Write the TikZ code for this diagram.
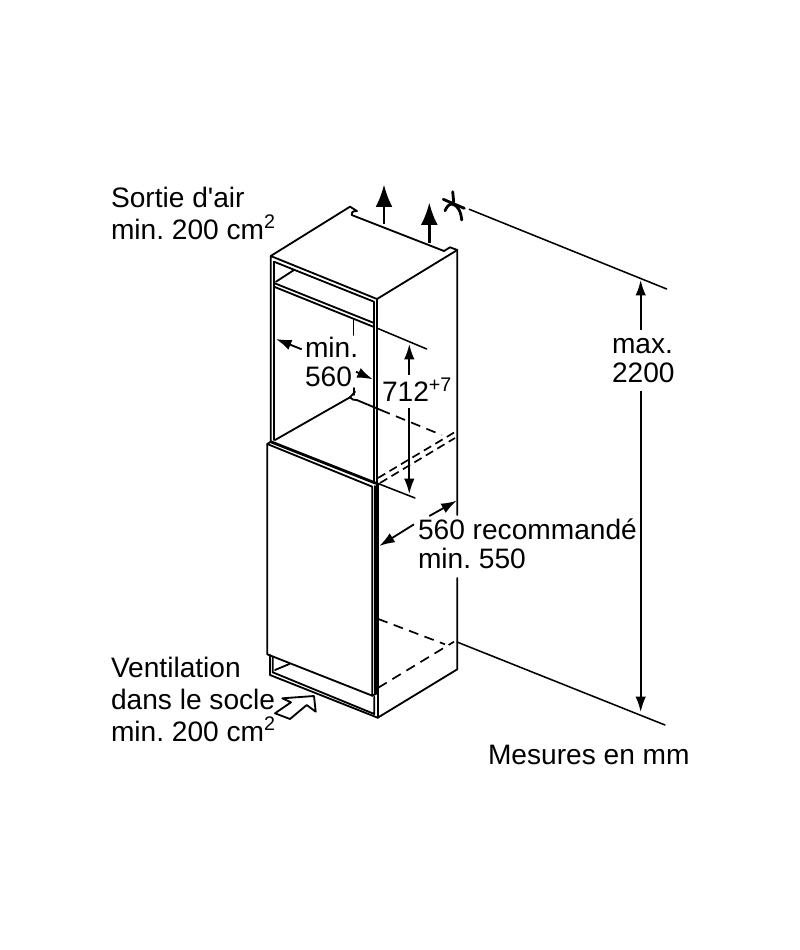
\documentclass[tikz,border=0pt]{standalone}
\usepackage{fontspec}
\usetikzlibrary{arrows.meta}
\setmainfont{Liberation Sans}
\tikzset{
	every node/.style={inner sep=0pt,outer sep=0pt,anchor=base west,align=left,font=\fontsize{20}{22.75}\selectfont\frenchspacing},
	tight/.style={font=\fontsize{20}{20}\selectfont\frenchspacing},
	unit/.style={line width=1.3pt,line cap=round,line join=round},
	thin unit/.style={line width=1.1pt,line cap=round},
	dim/.style={line width=1.3pt,-{Latex[length=11pt,width=7.5pt]}},
	air/.style={line width=2.1pt,-{Latex[length=16pt,width=12pt]}},
	hidden/.style={line width=1.2pt,dash pattern=on 7pt off 4.7pt},
	shelf hidden/.style={line width=1.2pt,dash pattern=on 6pt off 3.5pt}
}

\begin{document}
\begin{tikzpicture}[x=0.025cm,y=-0.025cm]
	\useasboundingbox (0,0) rectangle (800,950);
	% body
	\draw[unit] (270.7,256) -- (350,206.7) -- (357,211) .. controls (352,211) and (351,213) .. (351.7,215) -- (444,251) -- (450,247.3) -- (457.3,250) -- (457.3,515);
	\draw[unit] (457.3,578) -- (457.3,669.3) -- (377.7,717.7) -- (270,675) -- (270,655);
	\draw[unit] (457.3,250) -- (377,299) -- (270.7,256) -- (270.7,441.7);
	\draw[unit] (377,299) -- (377,483);
	\draw[unit] (274,261.7) -- (374,301.7) -- (374,483);
	\draw[unit] (274,261.7) -- (274,440);
	\draw[unit] (274,283) -- (374,323);
	\draw[unit] (274,286.7) -- (374,327);
	\draw[unit] (276,281.7) -- (294,270);
	% shelf
	\draw[unit] (275,440) -- (350,397.3) -- (355,391.7);
	\draw[unit] (354,388) -- (354,395);
	\draw[unit] (350,397.3) .. controls (352,400) and (354,400) .. (356.7,400) -- (380.7,410);
	\draw[hidden] (380.7,410) -- (441.7,435);
	\draw[shelf hidden] (378,478) -- (455,432);
	\draw[shelf hidden] (380,483) -- (455,438);
	% door
	\draw[line width=2pt] (270.7,441.7) -- (376,483.3);
	\draw[unit] (267.3,444) -- (270.7,441.7);
	\draw[unit] (267.3,444) -- (372.3,486.7) -- (372.3,695.7) -- (267.3,654.3) -- cycle;
	\draw[unit] (375,486) -- (375,694);
	\draw[line width=2pt] (377.5,484) -- (377.5,694);
	\draw[unit] (372.3,695.7) -- (377.5,693);
	\draw[unit] (377.7,694) -- (377.7,717.7);
	% plinth
	\draw[unit] (272.7,657.7) -- (272.7,672.3) -- (374.3,714) -- (374.3,696.7);
	\draw[unit] (275,670) -- (289.3,664);
	\draw[hidden] (378.3,619) -- (445,644.3);
	\draw[hidden] (378.3,687.7) -- (454,641.7);
	% dimension lines
	\draw[thin unit] (353.3,320) -- (353.3,335);
	\draw[thin unit] (376.7,328) -- (426.7,349);
	\draw[thin unit] (376.7,483) -- (415,498);
	\draw[thin unit] (469.3,209.3) -- (666.7,289);
	\draw[thin unit] (457,642) -- (665,725);
	% door swing
	\draw[line width=2pt,line cap=round] (452.7,191.7) -- (453.7,202);
	\draw[line width=2pt,line cap=round] (443.3,199.3) -- (464.3,208.3);
	\draw[line width=2pt,line cap=round] (445,210.7) .. controls (446.5,207) and (449,204) .. (452,204) .. controls (458,205) and (461,212) .. (461.7,220);
	% air arrows
	\draw[air] (384,224) -- (384,184.3);
	\draw[air] (429.3,242.7) -- (429.3,202.3);
	\coordinate (ventTip) at (282.3,698.3);
	\draw[unit,fill=white] (ventTip) -- (314,696) -- (315.7,711.7) -- (306.7,705) -- (290,719) -- (275,713.3) -- (291,702.3) -- cycle;
	% measures
	\draw[dim] (301.7,349.3) -- (276,339);
	\draw[dim] (356,371.7) -- (372.7,379.3);
	\draw[dim] (409.3,375) -- (409.3,344);
	\draw[dim] (409.3,408) -- (409.3,494);
	\draw[dim] (429.3,516) -- (456.7,500.7);
	\draw[dim] (414,524.3) -- (379.3,546);
	\draw[dim] (640.7,330) -- (640.7,280);
	\draw[dim] (640.7,391) -- (640.7,712);
	% labels
	\node (outlet) at (111,239.5) {Sortie d\textquotesingle air\\min. 200 cm\textsuperscript{2}};
	\node[tight] (inner) at (305,386) {min.\\560};
	\node (height) at (382,401.7) {712\textsuperscript{+7}};
	\node[tight] (depth) at (418,568) {560 recommandé\\min. 550};
	\node[tight] (total) at (612,382) {max.\\2200};
	\node (plinth) at (111,741) {Ventilation\\dans le socle\\min. 200 cm\textsuperscript{2}};
	\node (units) at (488,764) {Mesures en mm};
\end{tikzpicture}
\end{document}
